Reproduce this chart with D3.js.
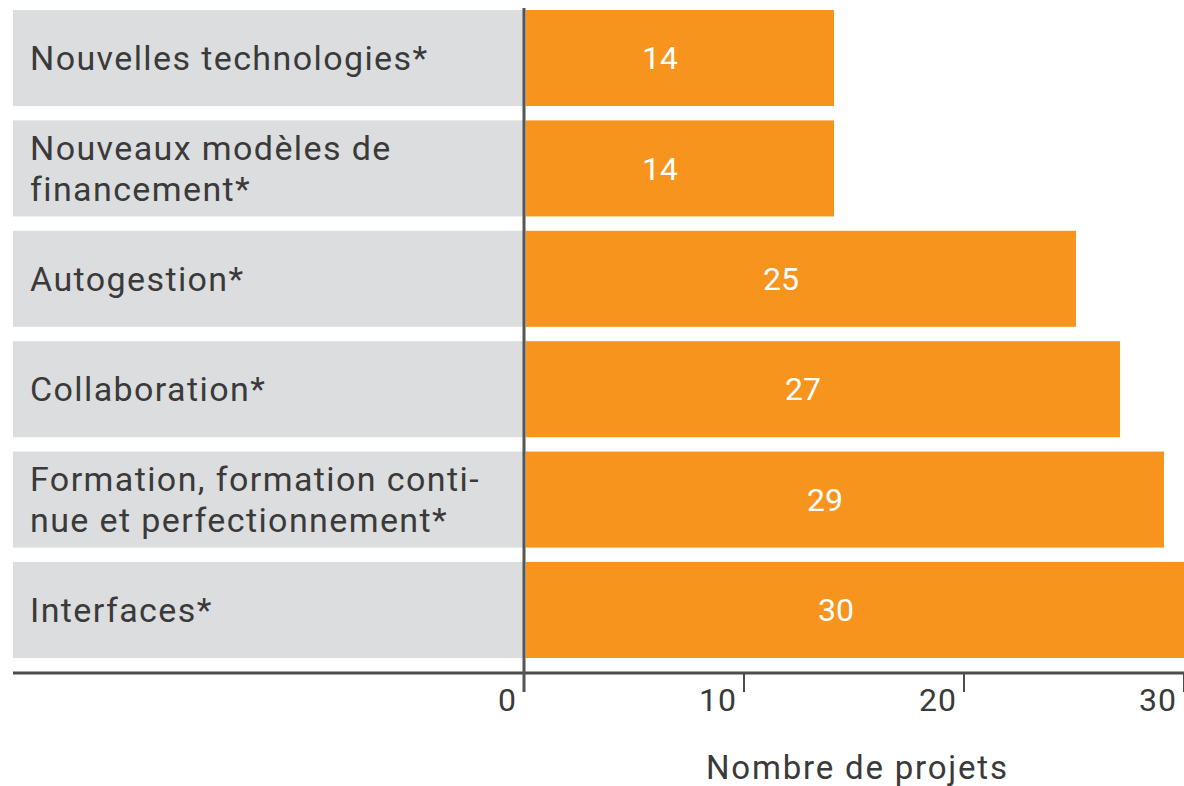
<!DOCTYPE html>
<html>
<head>
<meta charset="utf-8">
<script src="https://cdn.jsdelivr.net/npm/d3@7"></script>
<style>
  body { margin: 0; background: #fff; }
  svg { display: block; font-family: Roboto, "Open Sans", sans-serif; }
</style>
</head>
<body>
<svg></svg>
<script>
// Categories (line breaks as in the original) and number of projects
const categories = [
    "Nouvelles technologies*",
    "Nouveaux modèles de financement*",
    "Autogestion*",
    "Collaboration*",
    "Formation, formation continue et perfectionnement*",
    "Interfaces*"
];
const labelLines = [
    ["Nouvelles technologies*"],
    ["Nouveaux modèles de", "financement*"],
    ["Autogestion*"],
    ["Collaboration*"],
    ["Formation, formation conti-", "nue et perfectionnement*"],
    ["Interfaces*"]
];
const values = [14, 14, 25, 27, 29, 30];
const tickValues = [0, 10, 20, 30];
const axisTitle = "Nombre de projets";

const width = 1184, height = 786;
const data = categories.map((c, i) => ({ cat: c, lines: labelLines[i], value: values[i] }));

const svg = d3.select("svg")
    .attr("width", width)
    .attr("height", height);

// Scales
const x = d3.scaleLinear()
    .domain([0, 30])
    .range([526, 1186]);

const y = d3.scaleBand()
    .domain(categories)
    .range([10, 658])
    .paddingInner(0.13);

const textColor = "#3a3a3a";
const axisColor = "#4d4d4d";

// Grey label boxes
svg.selectAll(".label-box")
    .data(data)
    .enter().append("rect")
    .attr("class", "label-box")
    .attr("x", 13)
    .attr("y", d => y(d.cat))
    .attr("width", x(0) - 13)
    .attr("height", y.bandwidth())
    .style("fill", "#dcddde");

// Orange bars
svg.selectAll(".bar")
    .data(data)
    .enter().append("rect")
    .attr("class", "bar")
    .attr("x", x(0))
    .attr("y", d => y(d.cat))
    .attr("width", d => x(d.value) - x(0))
    .attr("height", y.bandwidth())
    .style("fill", "#f7941d");

// Category labels
const labels = svg.selectAll(".cat-label")
    .data(data)
    .enter().append("text")
    .attr("class", "cat-label")
    .attr("x", 30)
    .attr("y", d => y(d.cat) + y.bandwidth() / 2)
    .style("font-size", "34px")
    .style("letter-spacing", "1.4px")
    .style("fill", textColor);

labels.each(function (d) {
    const n = d.lines.length;
    d3.select(this).selectAll("tspan")
        .data(d.lines)
        .enter().append("tspan")
        .attr("x", 30)
        .attr("dy", (l, i) => i === 0 ? `${0.35 - (n - 1) * 0.6}em` : "1.2em")
        .text(l => l);
});

// Value labels inside the bars
svg.selectAll(".value-label")
    .data(data)
    .enter().append("text")
    .attr("class", "value-label")
    .attr("x", d => x(d.value / 2) - 20)
    .attr("y", d => y(d.cat) + y.bandwidth() / 2)
    .attr("dy", "0.35em")
    .style("text-anchor", "middle")
    .style("font-size", "32px")
    .style("fill", "#fff")
    .text(d => d.value);

// Horizontal axis line
svg.append("line")
    .attr("x1", 13)
    .attr("x2", width)
    .attr("y1", 673)
    .attr("y2", 673)
    .style("stroke", axisColor)
    .style("stroke-width", 3);

// Vertical zero line
svg.append("line")
    .attr("x1", x(0) - 2)
    .attr("x2", x(0) - 2)
    .attr("y1", 8)
    .attr("y2", 692)
    .style("stroke", "#555")
    .style("stroke-width", 3);

// Ticks and tick labels
const ticks = svg.selectAll(".tick")
    .data(tickValues)
    .enter().append("g")
    .attr("class", "tick")
    .attr("transform", d => `translate(${x(d) - 2},0)`);

ticks.filter(d => d !== 0).append("line")
    .attr("y1", 673)
    .attr("y2", 692)
    .style("stroke", axisColor)
    .style("stroke-width", 2);

ticks.append("text")
    .attr("x", -7)
    .attr("y", 711)
    .style("text-anchor", "end")
    .style("font-size", "32px")
    .style("letter-spacing", "1px")
    .style("fill", textColor)
    .text(d => d);

// Axis title
svg.append("text")
    .attr("x", 706)
    .attr("y", 779)
    .style("font-size", "33px")
    .style("letter-spacing", "1.8px")
    .style("fill", textColor)
    .text(axisTitle);
</script>
</body>
</html>
